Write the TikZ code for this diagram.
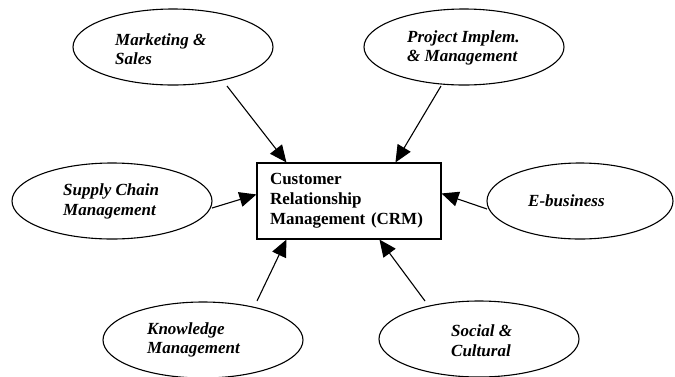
\documentclass[tikz,border=0pt]{standalone}
\usepackage{fontspec}
\setmainfont{Liberation Serif}
\usetikzlibrary{arrows.meta,shapes.geometric}
\begin{document}
\begin{tikzpicture}[x=1pt,y=-1pt,
  oval/.style={draw,ellipse,line width=1.1pt,inner sep=0pt,minimum width=200pt,minimum height=76pt},
  otext/.style={anchor=west,align=left,inner sep=0pt,font=\fontsize{17}{19.5}\selectfont\bfseries\itshape},
  arr/.style={line width=1.1pt,-{Triangle[length=17pt,width=15pt]}},
  crm/.style={draw,rectangle,line width=1.1pt,text width=158pt,align=left,inner xsep=13pt,inner ysep=0pt,minimum height=76pt,font=\fontsize{17}{20}\selectfont\bfseries}]
\useasboundingbox (0,0) rectangle (675,376);
\node[crm] (box) at (349,201) {Customer\\Relationship\\Management (CRM)};
\node[oval] (mkt) at (173,47) {};
\node[oval] (prj) at (464,47) {};
\node[oval] (sup) at (112,201) {};
\node[oval,minimum width=186pt] (ebiz) at (580,201) {};
\node[oval] (kno) at (203,340) {};
\node[oval] (soc) at (479,339) {};
\node[otext] (mktt) at (115,49) {Marketing \&\\Sales};
\node[otext] (prjt) at (407,48) {Project Implem.\\\& Management};
\node[otext] (supt) at (63,201.5) {Supply Chain\\Management};
\node[otext] (ebizt) at (528,201) {E-business};
\node[otext] (knot) at (147,340) {Knowledge\\Management};
\node[otext] (soct) at (451,340.5) {Social \&\\Cultural};
\draw[arr] ([shift={(54,39)}]mkt.center) -- ([shift={(30,0)}]box.north west);
\draw[arr] ([shift={(-23,39)}]prj.center) -- ([shift={(139,0)}]box.north west);
\draw[arr] ([shift={(100,7)}]sup.center) -- ([shift={(0,32)}]box.north west);
\draw[arr] ([shift={(-93,8)}]ebiz.center) -- ([shift={(0,31)}]box.north east);
\draw[arr] ([shift={(54,-39)}]kno.center) -- ([shift={(30,0)}]box.south west);
\draw[arr] ([shift={(-54,-38)}]soc.center) -- ([shift={(123,0)}]box.south west);
\end{tikzpicture}
\end{document}
